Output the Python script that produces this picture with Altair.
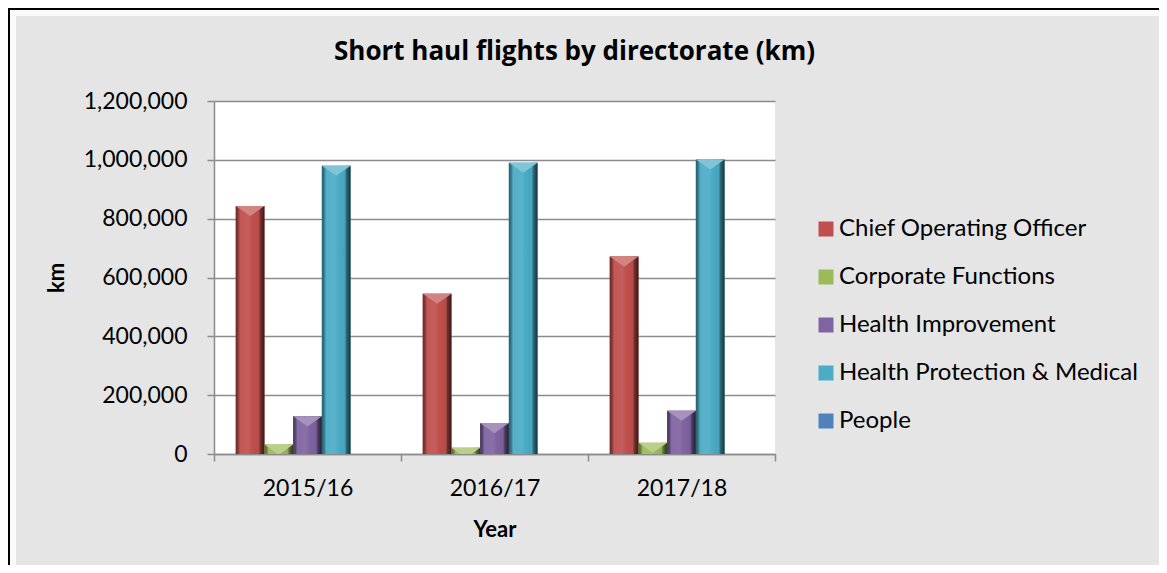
import altair as alt
import pandas as pd

years = ["2015/16", "2016/17", "2017/18"]
series = ["Chief Operating Officer", "Corporate Functions", "Health Improvement",
          "Health Protection & Medical", "People"]
chief_operating_officer = [843000, 545000, 671000]
corporate_functions = [32000, 21000, 38000]
health_improvement = [128000, 105000, 147000]
health_protection_medical = [980000, 990000, 1001000]
people = [0, 0, 0]
colors = ["#C0504D", "#9BBB59", "#8064A2", "#4BACC6", "#4F81BD"]
y_ticks = [0, 200000, 400000, 600000, 800000, 1000000, 1200000]

values = [chief_operating_officer, corporate_functions, health_improvement,
          health_protection_medical, people]
rows = []
for s, vals in zip(series, values):
    for yr, v in zip(years, vals):
        rows.append({"year": yr, "series": s, "km": v})
df = pd.DataFrame(rows)

FONT = "Lato"
W, H = 561, 353
PL, PT, PR, PB = 206, 93, 384, 111


def shade(hexc, f):
    r, g, b = int(hexc[1:3], 16), int(hexc[3:5], 16), int(hexc[5:7], 16)
    if f < 1:
        r, g, b = r * f, g * f, b * f
    else:
        t = f - 1
        r, g, b = r + (255 - r) * t, g + (255 - g) * t, b + (255 - b) * t
    return "#%02x%02x%02x" % (int(r), int(g), int(b))


def gradient(c):
    stops = [(0.0, 0.55), (0.08, 0.7), (0.15, 1.05), (0.45, 1.08), (0.55, 1.0),
             (0.8, 0.95), (0.86, 0.6), (1.0, 0.3)]
    return alt.Gradient(gradient="linear", x1=0, y1=0, x2=1, y2=0,
                        stops=[alt.GradientStop(offset=o, color=shade(c, f)) for o, f in stops])


x_enc = alt.X("year:N", sort=years,
              scale=alt.Scale(paddingInner=0, paddingOuter=0),
              axis=alt.Axis(title="Year", labelAngle=0, tickBand="extent", tickSize=7,
                            labelPadding=16, titlePadding=19))
xo_enc = alt.XOffset("series:N", sort=series,
                     scale=alt.Scale(domain=series, paddingInner=0, paddingOuter=0.758))
y_enc = alt.Y("km:Q", scale=alt.Scale(domain=[0, 1200000], nice=False),
              axis=alt.Axis(title="km", values=y_ticks, format=",.0f", tickSize=7,
                            labelPadding=20, titlePadding=15))

base = alt.Chart(df)
legend_layer = base.mark_bar().encode(
    x=x_enc, xOffset=xo_enc, y=y_enc,
    color=alt.Color("series:N", sort=series,
                    scale=alt.Scale(domain=series, range=colors),
                    legend=alt.Legend(title=None, orient="none", legendX=600, legendY=116,
                                      symbolType="square", symbolSize=225,
                                      symbolStrokeWidth=0, labelFontSize=24,
                                      labelFont=FONT, labelColor="#000000",
                                      labelLimit=600,
                                      rowPadding=24, labelOffset=1, padding=0)))

layers = [legend_layer]
for s, c in zip(series, colors):
    sub = base.transform_filter(alt.datum.series == s)
    layers.append(sub.mark_bar(color=gradient(c)).encode(x=x_enc, xOffset=xo_enc, y=y_enc))
    layers.append(sub.mark_point(shape="M-1,0L1,0L0,0.7Z", size=824, filled=True,
                                 opacity=1, color=shade(c, 1.3), clip=True)
                  .encode(x=x_enc, xOffset=xo_enc, y=y_enc))

frame_df = pd.DataFrame({"f": [0]})
frame = alt.Chart(frame_df).mark_rect(filled=False, stroke="#000000", strokeWidth=2,
                                      clip=False).encode(
    x=alt.value(-PL + 1), x2=alt.value(W + PR + 2),
    y=alt.value(-PT + 1), y2=alt.value(H + PB + 2))
bevel = alt.Chart(frame_df).mark_rect(filled=False, stroke="#ffffff", strokeWidth=6,
                                      strokeOpacity=0.8, clip=False).encode(
    x=alt.value(-PL + 5), x2=alt.value(W + PR + 10),
    y=alt.value(-PT + 5), y2=alt.value(H + PB + 10))

chart = alt.layer(bevel, *layers, frame).properties(
    width=W, height=H,
    autosize=alt.AutoSizeParams(type="none"),
    padding={"left": PL, "top": PT, "right": PR, "bottom": PB},
    background="#e5e5e5",
    title=alt.TitleParams("Short haul flights by directorate (km)", fontSize=26,
                          font="Open Sans", fontWeight="bold", color="#000000",
                          anchor="middle", dx=80, offset=-57),
).configure_view(fill="#ffffff", stroke=None).configure_axis(
    labelFont=FONT, titleFont=FONT, labelFontSize=23, titleFontSize=22,
    labelColor="#000000", titleColor="#000000", titleFontWeight="bold",
    domainColor="#8c8c8c", tickColor="#8c8c8c", gridColor="#8c8c8c",
    domainWidth=1.5, tickWidth=1.5, gridWidth=1.5,
).configure_axisX(grid=False).configure_axisY(domain=True)

chart.save("out.html", embed_options={"renderer": "svg", "actions": False})
